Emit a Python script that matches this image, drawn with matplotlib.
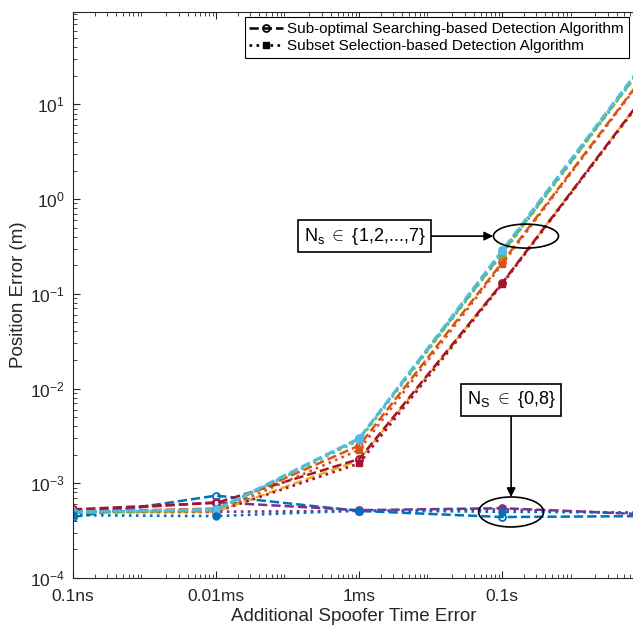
import matplotlib
matplotlib.use("Agg")
import matplotlib.pyplot as plt
from matplotlib.lines import Line2D
from matplotlib.patches import Ellipse
from matplotlib.ticker import FixedLocator, FixedFormatter, LogLocator, NullFormatter

plt.rcParams["font.family"] = ["Liberation Sans", "DejaVu Sans"]
plt.rcParams["mathtext.fontset"] = "custom"
plt.rcParams["mathtext.rm"] = "Liberation Sans"
plt.rcParams["mathtext.it"] = "Liberation Sans:italic"

# x positions (log axis, two decades per labelled tick)
x_vals = [1e0, 1e2, 1e4, 1e6, 1e8]
x_ticks = [1e0, 1e2, 1e4, 1e6]
x_tick_labels = ["0.1ns", "0.01ms", "1ms", "0.1s"]
y_ticks = [1e-4, 1e-3, 1e-2, 1e-1, 1e0, 1e1]
y_tick_labels = [r"$10^{-4}$", r"$10^{-3}$", r"$10^{-2}$", r"$10^{-1}$", r"$10^{0}$", r"$10^{1}$"]

# MATLAB default colours
c_blue = (0, 0.447, 0.741)
c_orange = (0.85, 0.325, 0.098)
c_yellow = (0.929, 0.694, 0.125)
c_purple = (0.494, 0.184, 0.556)
c_green = (0.466, 0.674, 0.188)
c_cyan = (0.301, 0.745, 0.933)
c_red = (0.635, 0.078, 0.184)

# Sub-optimal searching-based (dashed, open circles)
so_blue = [4.4e-4, 7.4e-4, 5.1e-4, 4.4e-4, 4.5e-4]
so_purple = [5.0e-4, 6.3e-4, 5.2e-4, 5.45e-4, 4.7e-4]
so_yellow = [4.9e-4, 5.0e-4, 1.75e-3, 0.13, 12.8]
so_red = [5.3e-4, 6.2e-4, 1.8e-3, 0.13, 12.8]
so_orange = [5.0e-4, 5.4e-4, 2.5e-3, 0.215, 21.0]
so_green = [4.9e-4, 5.2e-4, 2.95e-3, 0.27, 27.5]
so_cyan = [5.0e-4, 5.3e-4, 3.0e-3, 0.29, 29.0]

# Subset selection-based (dotted, squares)
ss_blue = [4.6e-4, 4.5e-4, 5.15e-4, 5.0e-4, 4.9e-4]
ss_purple = [5.0e-4, 5.0e-4, 5.1e-4, 5.3e-4, 4.8e-4]
ss_red = [5.0e-4, 5.0e-4, 1.62e-3, 0.127, 12.5]
ss_orange = [5.0e-4, 5.0e-4, 2.25e-3, 0.207, 20.5]
ss_green = [5.0e-4, 5.1e-4, 2.85e-3, 0.265, 27.0]
ss_cyan = [5.0e-4, 5.2e-4, 2.9e-3, 0.28, 28.0]

so_series = [(so_blue, c_blue), (so_purple, c_purple), (so_yellow, c_yellow),
             (so_red, c_red), (so_orange, c_orange), (so_green, c_green),
             (so_cyan, c_cyan)]
ss_series = [(ss_purple, c_purple), (ss_red, c_red), (ss_orange, c_orange),
             (ss_green, c_green), (ss_cyan, c_cyan)]

fig = plt.figure(figsize=(6.33, 6.27), dpi=100)
ax = fig.add_axes([0.1153, 0.0782, 0.8862, 0.9027])

for vals, col in so_series:
    ax.plot(x_vals, vals, "--o", color=col, lw=1.8, ms=5, mfc="none", mew=1.3)
for vals, col in ss_series:
    ax.plot(x_vals, vals, ":s", color=col, lw=1.9, ms=4.5, mew=1.0)
# blue subset line uses filled circles
ax.plot(x_vals, ss_blue, ":o", color=c_blue, lw=1.9, ms=5)

ax.set_xscale("log")
ax.set_yscale("log")
ax.set_xlim(1e0, 10 ** 7.84)
ax.set_ylim(1e-4, 10 ** 1.975)

ax.xaxis.set_major_locator(FixedLocator(x_ticks))
ax.xaxis.set_major_formatter(FixedFormatter(x_tick_labels))
ax.xaxis.set_minor_locator(LogLocator(base=10, subs=range(2, 10), numticks=30))
ax.xaxis.set_minor_formatter(NullFormatter())
ax.yaxis.set_major_locator(FixedLocator(y_ticks))
ax.yaxis.set_major_formatter(FixedFormatter(y_tick_labels))
ax.yaxis.set_minor_locator(LogLocator(base=10, subs=range(2, 10), numticks=30))
ax.yaxis.set_minor_formatter(NullFormatter())

ax.tick_params(which="both", direction="in", top=True, right=False,
               colors=(0.15, 0.15, 0.15), labelsize=12.5)
ax.tick_params(axis="x", which="major", pad=8)
ax.tick_params(axis="y", which="major", pad=6)
ax.tick_params(which="major", length=5, width=0.8)
ax.tick_params(which="minor", length=3, width=0.6)
for s in ax.spines.values():
    s.set_color((0.15, 0.15, 0.15))
    s.set_linewidth(0.8)

ax.set_xlabel("Additional Spoofer Time Error", fontsize=13.5, color=(0.15, 0.15, 0.15), labelpad=3)
ax.set_ylabel("Position Error (m)", fontsize=13.5, color=(0.15, 0.15, 0.15), labelpad=2)

handles = [
    Line2D([], [], color="k", ls="--", marker="o", mfc="none", lw=1.8, ms=5, mew=1.3),
    Line2D([], [], color="k", ls=":", marker="s", lw=1.9, ms=4.5),
]
leg = ax.legend(handles, ["Sub-optimal Searching-based Detection Algorithm",
                          "Subset Selection-based Detection Algorithm"],
                loc="upper right", bbox_to_anchor=(1.0, 1.0), fontsize=11,
                fancybox=False, framealpha=1, edgecolor="k", borderaxespad=0.35,
                handlelength=2.2, handletextpad=0.3, labelspacing=0.2,
                borderpad=0.3)
leg.get_frame().set_linewidth(0.8)

# annotations
ax.add_patch(Ellipse((0.8075, 0.604), 0.116, 0.0424, transform=ax.transAxes,
                     fill=False, ec="k", lw=1.2, zorder=5))
ax.annotate(r"N$_{\rm s}$ $\in$ {1,2,...,7}", xy=(0.749, 0.604), xytext=(0.52, 0.604),
            xycoords="axes fraction", textcoords="axes fraction", fontsize=13,
            ha="center", va="center",
            bbox=dict(boxstyle="square,pad=0.3", fc="white", ec="k", lw=1.2),
            arrowprops=dict(arrowstyle="-|>", color="k", lw=1.2, shrinkA=0, shrinkB=0))

ax.add_patch(Ellipse((0.781, 0.1166), 0.116, 0.053, transform=ax.transAxes,
                     fill=False, ec="k", lw=1.2, zorder=5))
ax.annotate(r"N$_{\rm S}$ $\in$ {0,8}", xy=(0.781, 0.143), xytext=(0.781, 0.3145),
            xycoords="axes fraction", textcoords="axes fraction", fontsize=13,
            ha="center", va="center",
            bbox=dict(boxstyle="square,pad=0.3", fc="white", ec="k", lw=1.2),
            arrowprops=dict(arrowstyle="-|>", color="k", lw=1.2, shrinkA=0, shrinkB=0))

fig.savefig("out.png", dpi=100)
